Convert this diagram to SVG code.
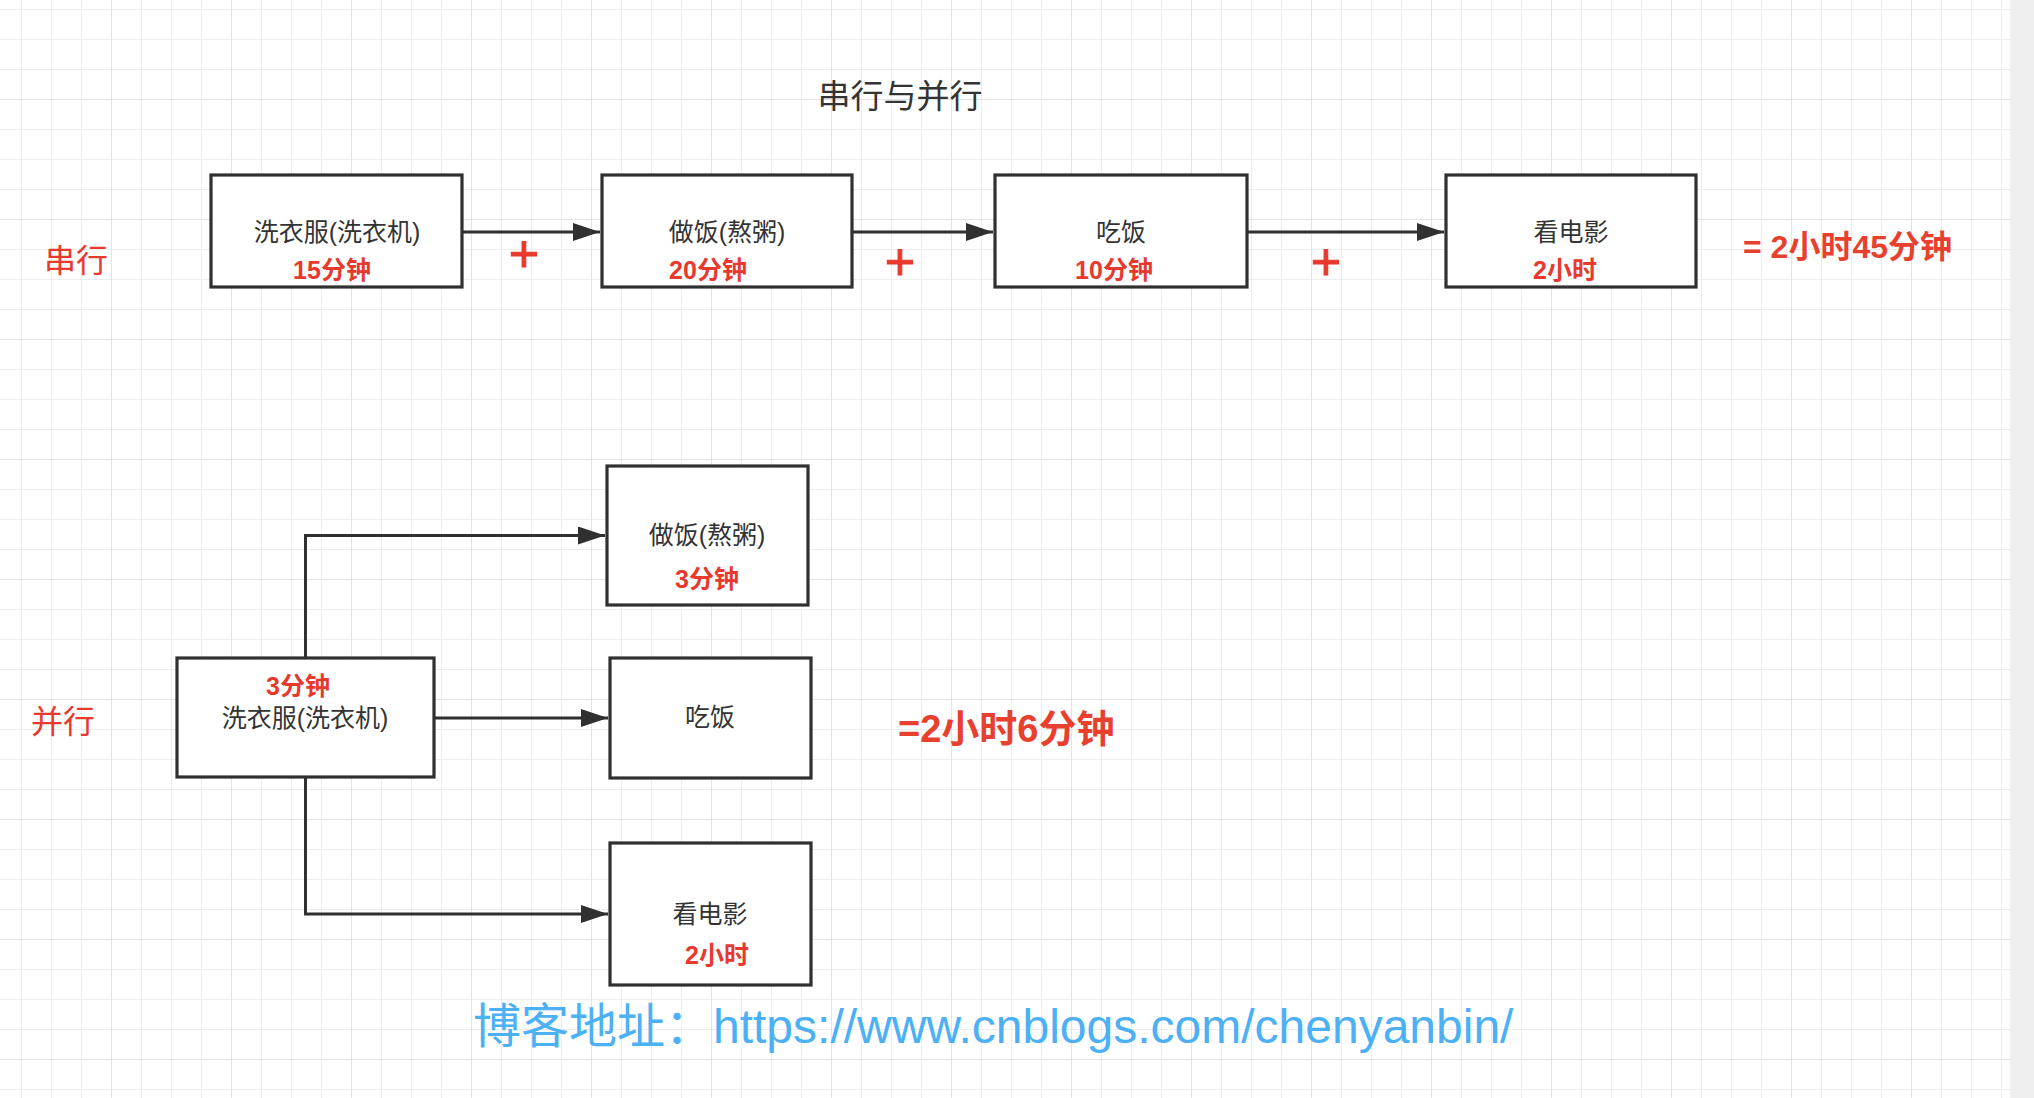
<svg xmlns="http://www.w3.org/2000/svg" width="2034" height="1098" viewBox="0 0 2034 1098">
<style>
.box{fill:#ffffff;stroke:#303030;stroke-width:3.2}
.t{font-family:"Liberation Sans","Noto Sans CJK SC",sans-serif;fill:#333333;font-size:25px;text-anchor:middle}
.r{font-family:"Liberation Sans","Noto Sans CJK SC",sans-serif;fill:#e8392e;font-size:25px;font-weight:bold;text-anchor:middle}
.lbl{font-family:"Liberation Sans","Noto Sans CJK SC",sans-serif;fill:#e8392e;font-size:32px;text-anchor:middle}
.plus{font-family:"Liberation Sans",sans-serif;fill:#e8392e;stroke:#e8392e;stroke-width:1;font-size:52px;text-anchor:middle}
.res{font-family:"Liberation Sans","Noto Sans CJK SC",sans-serif;fill:#e8402f;font-weight:bold}
.conn{fill:none;stroke:#303030;stroke-width:3}
</style>
<defs>
<pattern id="minor" patternUnits="userSpaceOnUse" x="21" y="9" width="30" height="30">
<path d="M0 0V30M0 0H30" stroke="#ededed" stroke-width="2" fill="none"/>
</pattern>
<pattern id="major" patternUnits="userSpaceOnUse" x="111" y="99" width="120" height="120">
<path d="M0 0V120M0 0H120" stroke="#e3e3e3" stroke-width="2" fill="none"/>
</pattern>
<marker id="arr" markerUnits="userSpaceOnUse" markerWidth="28" markerHeight="20" refX="27" refY="9" orient="auto">
<path d="M0 0L27 9L0 18Z" fill="#303030"/>
</marker>
</defs>
<rect x="0" y="0" width="2034" height="1098" fill="#ffffff"/>
<rect x="0" y="0" width="2010" height="1098" fill="url(#minor)"/>
<rect x="0" y="0" width="2010" height="1098" fill="url(#major)"/>
<rect x="2010" y="0" width="24" height="1098" fill="#efefef"/>

<text x="900" y="108" font-family="Liberation Sans,'Noto Sans CJK SC',sans-serif" font-size="33" fill="#333333" text-anchor="middle">串行与并行</text>
<text class="lbl" x="76" y="272">串行</text>
<text class="lbl" x="63" y="733">并行</text>

<g id="connectors">
<path class="conn" d="M462 232H600" marker-end="url(#arr)"/>
<path class="conn" d="M852 232H993" marker-end="url(#arr)"/>
<path class="conn" d="M1247 232H1444" marker-end="url(#arr)"/>
<path class="conn" d="M305.5 658V535.5H605" marker-end="url(#arr)"/>
<path class="conn" d="M434 718H608" marker-end="url(#arr)"/>
<path class="conn" d="M305.5 777V914H608" marker-end="url(#arr)"/>
</g>

<g id="s1">
<rect class="box" x="211" y="175" width="251" height="112"/>
<text class="t" x="337" y="241">洗衣服(洗衣机)</text>
<text class="r" x="332" y="279">15分钟</text>
</g>
<g id="s2">
<rect class="box" x="602" y="175" width="250" height="112"/>
<text class="t" x="727" y="241">做饭(熬粥)</text>
<text class="r" x="708" y="279">20分钟</text>
</g>
<g id="s3">
<rect class="box" x="995" y="175" width="252" height="112"/>
<text class="t" x="1121" y="241">吃饭</text>
<text class="r" x="1114" y="279">10分钟</text>
</g>
<g id="s4">
<rect class="box" x="1446" y="175" width="250" height="112"/>
<text class="t" x="1571" y="241">看电影</text>
<text class="r" x="1565" y="279">2小时</text>
</g>

<g id="plus-signs">
<text class="plus" x="524" y="272">+</text>
<text class="plus" x="900" y="280">+</text>
<text class="plus" x="1326" y="280">+</text>
</g>
<text class="res" x="1743" y="258" font-size="32">= 2小时45分钟</text>

<g id="p0">
<rect class="box" x="177" y="658" width="257" height="119"/>
<text class="r" x="298" y="695">3分钟</text>
<text class="t" x="305" y="727">洗衣服(洗衣机)</text>
</g>
<g id="p1">
<rect class="box" x="607" y="466" width="201" height="139"/>
<text class="t" x="707" y="544">做饭(熬粥)</text>
<text class="r" x="707" y="588">3分钟</text>
</g>
<g id="p2">
<rect class="box" x="610" y="658" width="201" height="120"/>
<text class="t" x="710" y="726">吃饭</text>
</g>
<g id="p3">
<rect class="box" x="610" y="843" width="201" height="142"/>
<text class="t" x="710" y="923">看电影</text>
<text class="r" x="717" y="964">2小时</text>
</g>
<text class="res" x="898" y="742" font-size="38">=2小时6分钟</text>

<text x="473" y="1043" font-family="Liberation Sans,'Noto Sans CJK SC',sans-serif" font-size="48" fill="#4cb0f4">博客地址：https://www.cnblogs.com/chenyanbin/</text>
</svg>
